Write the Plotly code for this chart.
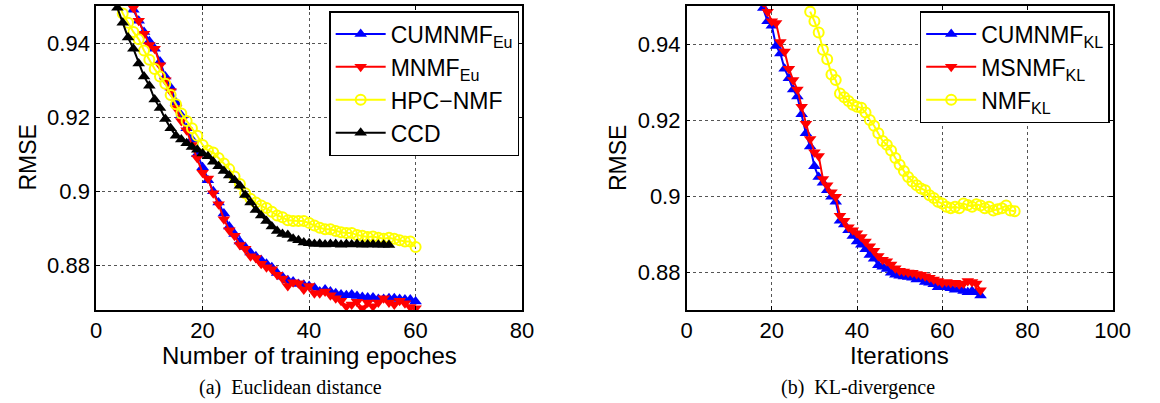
import plotly.graph_objects as go

# ---------------- data: (a) Euclidean distance ----------------
cum_eu_x = list(range(5, 61))
cum_eu_y = [0.956, 0.9515, 0.949, 0.946, 0.943, 0.9405, 0.9385, 0.935, 0.931, 0.928,
            0.924, 0.9205, 0.917, 0.914, 0.910, 0.9065, 0.903, 0.900, 0.897, 0.894,
            0.8905, 0.8885, 0.8865, 0.885, 0.8835, 0.8825, 0.8815, 0.8805, 0.8795, 0.878,
            0.877, 0.876, 0.8757, 0.875, 0.8748, 0.8745, 0.874, 0.873, 0.8735, 0.873,
            0.8725, 0.8722, 0.872, 0.8722, 0.8718, 0.8715, 0.8714, 0.8714, 0.871, 0.871,
            0.8712, 0.8712, 0.871, 0.8708, 0.8708, 0.8703]

mnmf_eu_x = list(range(5, 61))
mnmf_eu_y = [0.957, 0.953, 0.9495, 0.946, 0.9425, 0.9395, 0.9385, 0.934, 0.930, 0.927,
             0.9225, 0.919, 0.9165, 0.9125, 0.909, 0.905, 0.9035, 0.8995, 0.8965, 0.8925,
             0.8895, 0.888, 0.8855, 0.8845, 0.8825, 0.882, 0.8805, 0.8795, 0.879, 0.8775,
             0.8765, 0.8745, 0.8755, 0.8752, 0.8735, 0.8745, 0.8725, 0.8725, 0.873, 0.872,
             0.8712, 0.8705, 0.869, 0.8695, 0.8702, 0.8685, 0.870, 0.869, 0.870, 0.8712,
             0.870, 0.8695, 0.8705, 0.8698, 0.8688, 0.8685]

hpc_x = list(range(4, 61))
hpc_y = [0.9515, 0.948, 0.9455, 0.943, 0.941, 0.938, 0.9355, 0.933, 0.931, 0.929,
         0.926, 0.9235, 0.921, 0.919, 0.917, 0.915, 0.9125, 0.911, 0.9105, 0.909,
         0.9075, 0.906, 0.904, 0.902, 0.8995, 0.898, 0.897, 0.8962, 0.8955, 0.8945,
         0.8935, 0.893, 0.8922, 0.892, 0.892, 0.892, 0.8915, 0.8908, 0.8902, 0.8898,
         0.8898, 0.8893, 0.889, 0.8888, 0.8888, 0.8882, 0.888, 0.8877, 0.8878, 0.8875,
         0.8872, 0.8875, 0.8872, 0.8868, 0.8865, 0.8865, 0.885]

ccd_x = list(range(3, 56))
ccd_y = [0.9515, 0.9495, 0.9455, 0.9415, 0.9385, 0.9345, 0.931, 0.9285, 0.9248, 0.9225,
         0.9195, 0.917, 0.915, 0.914, 0.913, 0.912, 0.9112, 0.9102, 0.9095, 0.908,
         0.9068, 0.9055, 0.9043, 0.903, 0.9015, 0.899, 0.897, 0.895, 0.8935, 0.892,
         0.8905, 0.8893, 0.8885, 0.8882, 0.8872, 0.8868, 0.8862, 0.886, 0.8858, 0.8859,
         0.8857, 0.8858, 0.8858, 0.8856, 0.8858, 0.8857, 0.8858, 0.8856, 0.8857, 0.8857,
         0.8856, 0.8856, 0.8855]

# ---------------- data: (b) KL-divergence ----------------
cum_kl_x = list(range(17, 70))
cum_kl_y = [0.9525, 0.9495, 0.946, 0.9448, 0.9395, 0.9375, 0.9335, 0.931, 0.928, 0.9262,
            0.9215, 0.9165, 0.913, 0.9078, 0.905, 0.9035, 0.9015, 0.8998, 0.8985, 0.8935,
            0.8925, 0.891, 0.8895, 0.888, 0.8872, 0.886, 0.8845, 0.8835, 0.8818, 0.8814,
            0.8808, 0.8798, 0.8793, 0.879, 0.8788, 0.8787, 0.8785, 0.878, 0.8781, 0.8774,
            0.8772, 0.8768, 0.876, 0.8762, 0.876, 0.8757, 0.8753, 0.8755, 0.875, 0.8747,
            0.875, 0.8747, 0.8738]

msnmf_kl_x = list(range(18, 70))
msnmf_kl_y = [0.951, 0.9485, 0.946, 0.9455, 0.9405, 0.938, 0.9335, 0.9305, 0.928, 0.9235,
              0.919, 0.915, 0.9115, 0.9105, 0.9045, 0.9028, 0.901, 0.8998, 0.8948, 0.8935,
              0.8918, 0.891, 0.8902, 0.8892, 0.888, 0.8868, 0.8856, 0.8842, 0.8832, 0.8828,
              0.882, 0.881, 0.8803, 0.8801, 0.8799, 0.8798, 0.8795, 0.8793, 0.8789, 0.8785,
              0.878, 0.8776, 0.8772, 0.8774, 0.8772, 0.8772, 0.8768, 0.877, 0.8776, 0.8774,
              0.877, 0.8752]

nmf_kl_x = list(range(29, 78))
nmf_kl_y = [0.9485, 0.946, 0.943, 0.9385, 0.936, 0.932, 0.9305, 0.927, 0.926, 0.925,
            0.924, 0.9235, 0.9232, 0.922, 0.920, 0.9185, 0.9165, 0.9145, 0.9135, 0.912,
            0.910, 0.9082, 0.9066, 0.905, 0.9038, 0.9028, 0.902, 0.9015, 0.9002, 0.8995,
            0.8985, 0.898, 0.8972, 0.8968, 0.8972, 0.8968, 0.898, 0.8976, 0.8972, 0.8978,
            0.8975, 0.8968, 0.8972, 0.8962, 0.8965, 0.8968, 0.8975, 0.8962, 0.896]

eu_xticks = [0, 20, 40, 60, 80]
kl_xticks = [0, 20, 40, 60, 80, 100]
y_ticks = [0.88, 0.9, 0.92, 0.94]
y_ticklabels = ["0.88", "0.9", "0.92", "0.94"]

FONT = "Liberation Sans, Arial, sans-serif"
SERIF = "Liberation Serif, Times New Roman, serif"

fig = go.Figure()

def add(x, y, name, color, symbol, xa, ya, legend, size=11, open_marker=False):
    marker = dict(symbol=symbol, size=size, color=color)
    if open_marker:
        marker = dict(symbol="circle-open", size=size, color=color, line=dict(width=2, color=color))
    fig.add_trace(go.Scatter(
        x=x, y=y, name=name, mode="lines+markers",
        line=dict(color=color, width=2), marker=marker,
        xaxis=xa, yaxis=ya, legend=legend, cliponaxis=True))

add(cum_eu_x, cum_eu_y, "CUMNMF<sub>Eu</sub>", "#0000FF", "triangle-up", "x", "y", "legend")
add(mnmf_eu_x, mnmf_eu_y, "MNMF<sub>Eu</sub>", "#FF0000", "triangle-down", "x", "y", "legend")
add(hpc_x, hpc_y, "HPC\u2212NMF", "#FFFF00", "circle", "x", "y", "legend", size=10, open_marker=True)
add(ccd_x, ccd_y, "CCD", "#000000", "triangle-up", "x", "y", "legend")

add(cum_kl_x, cum_kl_y, "CUMNMF<sub>KL</sub>", "#0000FF", "triangle-up", "x2", "y2", "legend2")
add(msnmf_kl_x, msnmf_kl_y, "MSNMF<sub>KL</sub>", "#FF0000", "triangle-down", "x2", "y2", "legend2")
add(nmf_kl_x, nmf_kl_y, "NMF<sub>KL</sub>", "#FFFF00", "circle", "x2", "y2", "legend2", size=10, open_marker=True)

W, H = 1160, 403
top, bottom = 6, 310
ydom = [1 - bottom / H, 1 - top / H]

axis_common = dict(
    showline=True, linecolor="black", linewidth=1.5, mirror="ticks",
    ticks="inside", ticklen=4, tickcolor="black",
    showgrid=True, gridcolor="#555555", griddash="dot", gridwidth=1,
    zeroline=False, tickfont=dict(family=FONT, size=22, color="black"),
)

legend_common = dict(xanchor="left", yanchor="top", itemwidth=50,
                     bordercolor="black", borderwidth=1.5, bgcolor="white",
                     font=dict(family=FONT, size=23, color="black"), tracegroupgap=0)

fig.update_layout(
    width=W, height=H, margin=dict(l=0, r=0, t=0, b=0),
    paper_bgcolor="white", plot_bgcolor="white",
    font=dict(family=FONT, color="black"),
    xaxis=dict(domain=[92 / W, 527 / W], range=[0, 80], tickvals=eu_xticks, anchor="y", **axis_common),
    yaxis=dict(domain=ydom, range=[0.868, 0.95], tickvals=y_ticks, ticktext=y_ticklabels, anchor="x", **axis_common),
    xaxis2=dict(domain=[695 / W, 1130 / W], range=[0, 100], tickvals=kl_xticks, anchor="y2", **axis_common),
    yaxis2=dict(domain=ydom, range=[0.87, 0.95], tickvals=y_ticks, ticktext=y_ticklabels, anchor="x2", **axis_common),
    legend=dict(x=330 / W, y=1 - 11 / H, **legend_common),
    legend2=dict(x=933 / W, y=1 - 11 / H, **legend_common),
    showlegend=True,
)

ann = [
    dict(text="RMSE", x=22 / W, y=1 - 158 / H, textangle=-90, size=23),
    dict(text="RMSE", x=625 / W, y=1 - 158 / H, textangle=-90, size=23),
    dict(text="Number of training epoches", x=(92 + 527) / 2 / W, y=1 - 355 / H, size=24),
    dict(text="Iterations", x=(695 + 1130) / 2 / W, y=1 - 355 / H, size=24),
]
for a in ann:
    size = a.pop("size")
    fig.add_annotation(xref="paper", yref="paper", showarrow=False,
                       xanchor="center", yanchor="middle",
                       font=dict(family=FONT, size=size, color="black"), **a)

fig.add_annotation(text="(a)  Euclidean distance", x=290 / W, y=1 - 387 / H, xref="paper", yref="paper",
                   showarrow=False, xanchor="center", yanchor="middle",
                   font=dict(family=SERIF, size=20, color="black"))
fig.add_annotation(text="(b)  KL-divergence", x=870 / W, y=1 - 387 / H, xref="paper", yref="paper",
                   showarrow=False, xanchor="center", yanchor="middle",
                   font=dict(family=SERIF, size=20, color="black"))

fig.write_html("out.html")
